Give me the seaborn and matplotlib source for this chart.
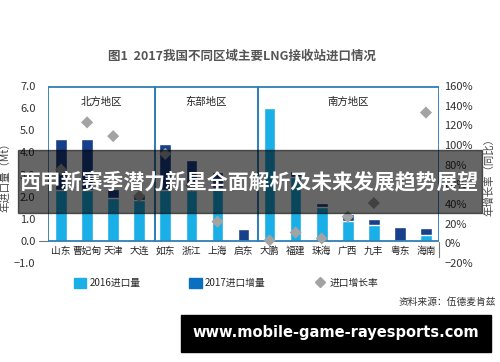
import numpy as np
import pandas as pd
import seaborn as sns
import matplotlib.pyplot as plt
from matplotlib.patches import Rectangle, Patch
from matplotlib.lines import Line2D

# ----------------------------
# Data
# ----------------------------
stations = ["山东", "曹妃甸", "天津", "大连", "如东", "浙江", "上海", "启东",
            "大鹏", "福建", "珠海", "广西", "九丰", "粤东", "海南"]
import_2016 = [2.3, 2.3, 1.95, 1.85, 2.3, 2.3, 2.4, 0.0,
               6.0, 2.9, 1.55, 0.9, 0.73, 0.0, 0.27]
increase_2017 = [2.3, 2.3, 0.4, 0.25, 2.1, 1.35, 0.7, 0.55,
                 0.05, 0.25, 0.18, 0.32, 0.27, 0.64, 0.33]
growth_pct = [75, 123, 109, 48, 91, 59, 22, np.nan,
              3, 11, 5, 27, 41, np.nan, 133]

regions = ["北方地区", "东部地区", "南方地区"]
region_spans = [(-0.5, 3.6), (3.6, 7.55), (7.55, 14.5)]

df = pd.DataFrame({"station": stations, "y2016": import_2016,
                   "inc": increase_2017, "growth": growth_pct})
df["total"] = df["y2016"] + df["inc"]

# ----------------------------
# Style
# ----------------------------
sns.set_style("white")
plt.rcParams["font.family"] = ["Noto Sans CJK SC", "DejaVu Sans"]

c2016 = "#1aafe6"
c2017 = "#173f8a"
c2017_leg = "#0b6fc0"
cdiam = "#a3a3a3"
cbox = "#2f7fb5"

fig = plt.figure(figsize=(5, 3.62), dpi=100)
ax = fig.add_axes([0.096, 0.2735, 0.782, 0.4889])

sns.barplot(data=df, x="station", y="total", order=stations, color=c2017,
            width=0.45, saturation=1, ax=ax, zorder=2)
sns.barplot(data=df, x="station", y="y2016", order=stations, color=c2016,
            width=0.45, saturation=1, ax=ax, zorder=3)

ax.set_xlim(-0.5, 14.5)
ax.set_ylim(-1, 7)
ax.set_yticks(np.arange(-1, 7.1, 1))
ax.set_yticklabels([f"{v:.1f}".replace("-", "\u2212") for v in np.arange(-1, 7.1, 1)])
ax.set_xticks([])
ax.set_xlabel("")
ax.set_ylabel("年进口量（Mt）", fontsize=7.5, color="#444")
ax.yaxis.set_label_coords(-0.095, 0.5)
ax.tick_params(axis="y", length=0, pad=9, labelsize=8, labelcolor="#333")
for s in ax.spines.values():
    s.set_visible(False)

# category labels sit just under zero
for i, name in enumerate(stations):
    ax.text(i, -0.45, name, ha="center", va="center", fontsize=7, color="#222")

# region boxes
for name, (x0, x1) in zip(regions, region_spans):
    ax.add_patch(Rectangle((x0, 0), x1 - x0, 6.95, fill=False,
                           edgecolor=cbox, lw=1.3, zorder=4))
    ax.text((x0 + x1) / 2, 6.3, name, ha="center", va="center",
            fontsize=7.5, color="#222")
ax.plot([-0.85, -0.5], [0, 0], color="#777", lw=0.8, clip_on=False)
ax.plot([14.5, 14.5], [-0.05, -0.75], color="#777", lw=0.8, clip_on=False)

# growth rate on the right axis
ax2 = ax.twinx()
sns.scatterplot(data=df, x="station", y="growth", marker="D", color=cdiam,
                s=38, edgecolor="none", ax=ax2, zorder=5)
ax2.set_xlim(-0.5, 14.5)
ax2.set_ylim(-20, 160)
ax2.set_yticks(np.arange(-20, 161, 20))
ax2.set_yticklabels([f"{v}%".replace("-", "\u2212") for v in range(-20, 161, 20)])
ax2.set_ylabel("年增长率（同比）", fontsize=7.5, color="#444", rotation=90)
ax2.yaxis.set_label_coords(1.115, 0.5)
ax2.set_xlabel("")
ax2.tick_params(axis="y", length=0, pad=4, labelsize=8, labelcolor="#333")
for s in ax2.spines.values():
    s.set_visible(False)

fig.text(0.484, 0.845, "图1  2017我国不同区域主要LNG接收站进口情况",
         ha="center", va="center", fontsize=9, fontweight="bold", color="#555")

handles = [Patch(color=c2016), Patch(color=c2017_leg),
           Line2D([], [], marker="D", color=cdiam, ls="none", markersize=5)]
fig.legend(handles, ["2016进口量", "2017进口增量", "进口增长率"], ncol=3,
           loc="center left", bbox_to_anchor=(0.13, 0.218), frameon=False,
           fontsize=7, handlelength=1.3, handleheight=1.3, handletextpad=0.3,
           columnspacing=5.0)

fig.text(0.992, 0.166, "资料来源：伍德麦肯兹", ha="right", va="center",
         fontsize=7, color="#333")

# overlay banner
fig.patches.append(Rectangle((18 / 500, 1 - 213 / 362), 464 / 500, 63 / 362,
                             transform=fig.transFigure, color="black",
                             alpha=0.6, zorder=10))
fig.text(0.5, 1 - 183 / 362, "西甲新赛季潜力新星全面解析及未来发展趋势展望",
         ha="center", va="center", fontsize=15, fontweight="bold",
         color="white", zorder=11)

# watermark
fig.patches.append(Rectangle((181 / 500, 1 - 352 / 362), 310 / 500, 37 / 362,
                             transform=fig.transFigure, color="black", zorder=10))
fig.text(336 / 500, 1 - 333 / 362, "www.mobile-game-rayesports.com",
         ha="center", va="center", fontsize=10.5, fontweight="bold",
         color="white", family="DejaVu Sans", zorder=11)

fig.savefig("out.png", dpi=100)
